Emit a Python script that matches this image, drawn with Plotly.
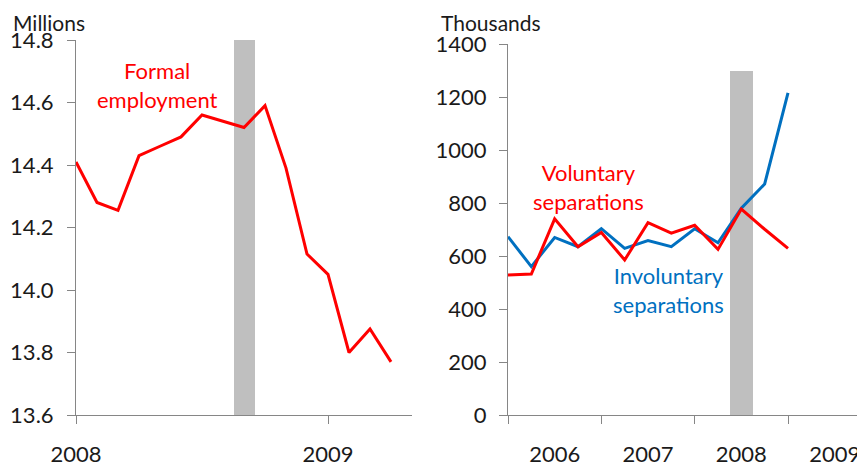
import plotly.graph_objects as go

# ---- Left panel data: formal employment (millions), monthly from Jan 2008
formal_month_index = list(range(16))
formal_employment = [14.41, 14.28, 14.255, 14.43, 14.46, 14.49, 14.56, 14.54,
                     14.52, 14.59, 14.39, 14.115, 14.05, 13.80, 13.875, 13.77]
left_year_ticks = [0, 12]
left_year_labels = ["2008", "2009"]
left_bar_x = [8]
left_bar_base = 13.6
left_bar_top = 14.8

# ---- Right panel data: separations (thousands), quarterly from 2006
quarter_index = list(range(13))
involuntary = [673, 560, 670, 635, 703, 629, 658, 635, 703, 650, 780, 872, 1216]
voluntary = [528, 532, 740, 635, 689, 585, 726, 686, 716, 625, 777, 701, 629]
right_year_label_pos = [2, 6, 10, 14]
right_year_labels = ["2006", "2007", "2008", "2009"]
right_bar_x = [10]
right_bar_height = [1300]

RED = "#FF0000"
BLUE = "#0070C0"
GRAY = "#BFBFBF"
AXIS = "#868686"
FONT = "Lato"

# page body has an 8px margin, so the figure is sized to the visible area
OFF = 8
W, H = 865 - OFF, 468 - OFF

fig = go.Figure()

fig.add_trace(go.Bar(x=left_bar_x, y=[left_bar_top - left_bar_base], base=left_bar_base,
                     width=1, marker=dict(color=GRAY, line=dict(width=0)),
                     xaxis="x", yaxis="y", showlegend=False, hoverinfo="skip"))
fig.add_trace(go.Scatter(x=formal_month_index, y=formal_employment, mode="lines",
                         line=dict(color=RED, width=3), xaxis="x", yaxis="y",
                         showlegend=False, cliponaxis=False))

fig.add_trace(go.Bar(x=right_bar_x, y=right_bar_height, width=1,
                     marker=dict(color=GRAY, line=dict(width=0)),
                     xaxis="x2", yaxis="y2", showlegend=False, hoverinfo="skip"))
fig.add_trace(go.Scatter(x=quarter_index, y=involuntary, mode="lines",
                         line=dict(color=BLUE, width=3), xaxis="x2", yaxis="y2",
                         showlegend=False, cliponaxis=False))
fig.add_trace(go.Scatter(x=quarter_index, y=voluntary, mode="lines",
                         line=dict(color=RED, width=3), xaxis="x2", yaxis="y2",
                         showlegend=False, cliponaxis=False))

def px_x(p):
    return (p - OFF) / W

def px_y(p):
    return 1 - (p - OFF) / H

tickfont = dict(family=FONT, size=22, color="#1a1a1a")

fig.update_layout(
    width=W, height=H,
    margin=dict(l=0, r=0, t=0, b=0, autoexpand=False),
    paper_bgcolor="white", plot_bgcolor="white",
    font=dict(family=FONT, size=20, color="#1a1a1a"),
    bargap=0,
    xaxis=dict(domain=[px_x(76), px_x(412)], range=[0, 16], anchor="y", automargin=False,
               showgrid=False, zeroline=False, showline=True, linecolor=AXIS, linewidth=1,
               tickmode="array", tickvals=left_year_ticks, ticktext=left_year_labels,
               ticks="outside", ticklen=8, tickcolor=AXIS, tickfont=tickfont,
               ticklabelstandoff=12),
    yaxis=dict(domain=[px_y(415), px_y(40)], range=[13.6, 14.8], anchor="x", automargin=False,
               showgrid=False, zeroline=False, showline=True, linecolor=AXIS, linewidth=1,
               tickmode="linear", tick0=13.6, dtick=0.2, tickformat=".1f",
               ticks="outside", ticklen=8, tickcolor=AXIS, tickfont=tickfont,
               ticklabelstandoff=9),
    xaxis2=dict(domain=[px_x(508), px_x(858)], range=[0, 15], anchor="y2", automargin=False,
                showgrid=False, zeroline=False, showline=True, linecolor=AXIS, linewidth=1,
                tickmode="array", tickvals=right_year_label_pos, ticktext=right_year_labels,
                ticks="", tickfont=tickfont, ticklabelstandoff=20,
                minor=dict(tickmode="linear", tick0=0, dtick=4, ticks="outside",
                           ticklen=8, tickcolor=AXIS, showgrid=False)),
    yaxis2=dict(domain=[px_y(415), px_y(44)], range=[0, 1400], anchor="x2", automargin=False,
                showgrid=False, zeroline=False, showline=True, linecolor=AXIS, linewidth=1,
                tickmode="linear", tick0=0, dtick=200,
                ticks="outside", ticklen=8, tickcolor=AXIS, tickfont=tickfont,
                ticklabelstandoff=8),
)

ann_font = dict(family=FONT, size=22)
fig.add_annotation(text="Millions", xref="paper", yref="paper", x=px_x(11), y=px_y(22),
                   xanchor="left", yanchor="middle", showarrow=False,
                   font=dict(family=FONT, size=21, color="#1a1a1a"))
fig.add_annotation(text="Thousands", xref="paper", yref="paper", x=px_x(439), y=px_y(22),
                   xanchor="left", yanchor="middle", showarrow=False,
                   font=dict(family=FONT, size=21, color="#1a1a1a"))
fig.add_annotation(text="Formal<br>employment", xref="paper", yref="paper",
                   x=px_x(157), y=px_y(85), xanchor="center", yanchor="middle",
                   showarrow=False, align="center", font=dict(ann_font, color=RED))
fig.add_annotation(text="Voluntary<br>separations", xref="paper", yref="paper",
                   x=px_x(588), y=px_y(187), xanchor="center", yanchor="middle",
                   showarrow=False, align="center", font=dict(ann_font, color=RED))
fig.add_annotation(text="Involuntary<br>separations", xref="paper", yref="paper",
                   x=px_x(668), y=px_y(290), xanchor="center", yanchor="middle",
                   showarrow=False, align="center", font=dict(ann_font, color=BLUE))

fig.write_html("out.html")
